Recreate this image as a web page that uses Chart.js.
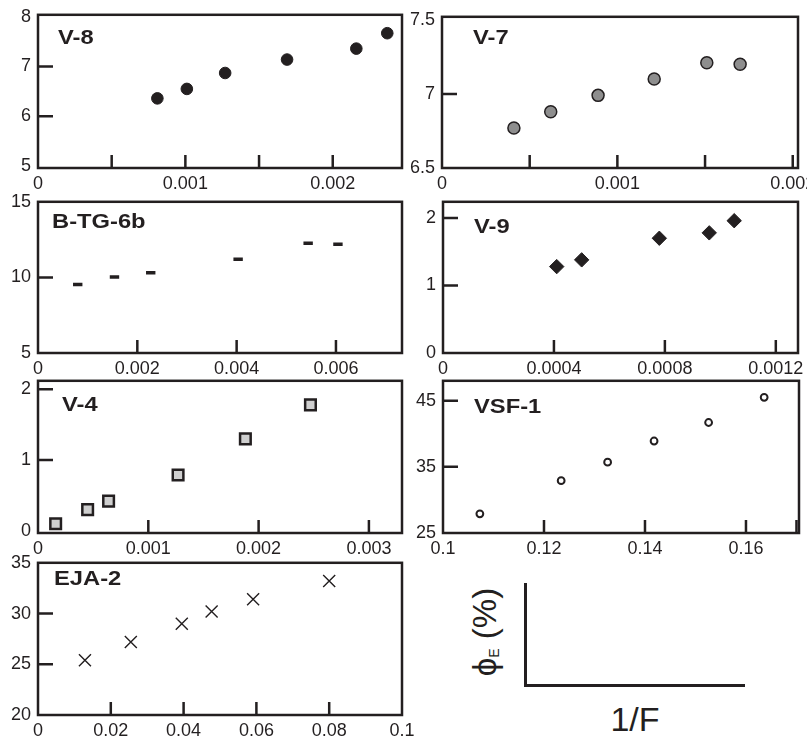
<!DOCTYPE html>
<html><head><meta charset="utf-8">
<script src="https://cdn.jsdelivr.net/npm/chart.js@4.4.0/dist/chart.umd.min.js"></script>
<style>
html,body{margin:0;padding:0;background:#fff;overflow:hidden;width:807px;height:738px;position:relative;}
canvas{position:absolute;}
.ttl{position:absolute;font:bold 21px "Liberation Sans",Arial,sans-serif;color:#231f20;line-height:21px;white-space:nowrap;transform:scaleX(1.13);transform-origin:0 0;}
.ln{position:absolute;background:#231f20;}
</style></head><body>
<script>
// ---------- data ----------
const v8X = [0.00081, 0.00101, 0.00127, 0.00169, 0.00216, 0.00237];
const v8Y = [6.36, 6.55, 6.87, 7.14, 7.36, 7.67];
const v7X = [0.00041, 0.00062, 0.00089, 0.00121, 0.00151, 0.00170];
const v7Y = [6.77, 6.88, 6.99, 7.10, 7.21, 7.20];
const btgX = [0.00080, 0.00154, 0.00227, 0.00403, 0.00544, 0.00604];
const btgY = [9.53, 10.02, 10.30, 11.20, 12.26, 12.19];
const v9X = [0.00041, 0.00050, 0.00078, 0.00096, 0.00105];
const v9Y = [1.28, 1.38, 1.70, 1.78, 1.96];
const v4X = [0.00016, 0.00045, 0.00064, 0.00127, 0.00188, 0.00247];
const v4Y = [0.10, 0.30, 0.42, 0.79, 1.30, 1.78];
const vsfX = [0.1073, 0.1234, 0.1326, 0.1418, 0.1526, 0.1636];
const vsfY = [27.9, 32.9, 35.7, 38.9, 41.7, 45.5];
const ejaX = [0.0129, 0.0255, 0.0395, 0.0477, 0.0591, 0.0800];
const ejaY = [25.4, 27.2, 29.0, 30.2, 31.4, 33.2];

// tick labels and tick marks
const v8XLabels = [0, 0.001, 0.002];        const v8XMarks = [0.0005, 0.001, 0.0015, 0.002];
const v8YLabels = [5, 6, 7, 8];             const v8YMarks = [6, 7];
const v7XLabels = [0, 0.001, 0.002];        const v7XMarks = [0.0005, 0.001, 0.0015, 0.002];
const v7YLabels = [6.5, 7, 7.5];            const v7YMarks = [7];
const btgXLabels = [0, 0.002, 0.004, 0.006];const btgXMarks = [0.002, 0.004, 0.006];
const btgYLabels = [5, 10, 15];             const btgYMarks = [10];
const v9XLabels = [0, 0.0004, 0.0008, 0.0012]; const v9XMarks = [0.0004, 0.0008, 0.0012];
const v9YLabels = [0, 1, 2];                const v9YMarks = [1, 2];
const v4XLabels = [0, 0.001, 0.002, 0.003]; const v4XMarks = [0.001, 0.002, 0.003];
const v4YLabels = [0, 1, 2];                const v4YMarks = [1, 2];
const vsfXLabels = [0.1, 0.12, 0.14, 0.16]; const vsfXMarks = [0.12, 0.14, 0.16, 0.17];
const vsfYLabels = [25, 35, 45];            const vsfYMarks = [35, 45];
const ejaXLabels = [0, 0.02, 0.04, 0.06, 0.08, 0.1]; const ejaXMarks = [0.02, 0.04, 0.06, 0.08];
const ejaYLabels = [20, 25, 30, 35];        const ejaYMarks = [25, 30];

const titles = ['V-8', 'V-7', 'B-TG-6b', 'V-9', 'V-4', 'VSF-1', 'EJA-2'];

// ---------- layout / style ----------
const FONT = '"Liberation Sans", Arial, sans-serif';
const INK = '#231f20';

const panels = [
  {t:0, x:v8X, y:v8Y, box:[38,11,402,168], xr:[0,0.00247], yr:[4.96,8.04],
   xl:v8XLabels, xm:v8XMarks, yl:v8YLabels, ym:v8YMarks, tpos:[58,25.5],
   mk:{style:'circle', r:5.8, fill:INK, stroke:INK, bw:1}},
  {t:1, x:v7X, y:v7Y, box:[442,13,798,168], xr:[0,0.00203], yr:[6.5,7.52],
   xl:v7XLabels, xm:v7XMarks, yl:v7YLabels, ym:v7YMarks, tpos:[473,25.5],
   mk:{style:'circle', r:6, fill:'#8e8e8e', stroke:INK, bw:1.5}},
  {t:2, x:btgX, y:btgY, box:[38,198,402,353], xr:[0,0.00733], yr:[5,15],
   xl:btgXLabels, xm:btgXMarks, yl:btgYLabels, ym:btgYMarks, tpos:[52,210],
   mk:{style:'line', r:4.7, fill:INK, stroke:INK, bw:3.5}},
  {t:3, x:v9X, y:v9Y, box:[443,198,798,353], xr:[0,0.00128], yr:[0,2.24],
   xl:v9XLabels, xm:v9XMarks, yl:v9YLabels, ym:v9YMarks, tpos:[474,214.5],
   mk:{style:'rectRot', r:7.2, fill:INK, stroke:INK, bw:1}},
  {t:4, x:v4X, y:v4Y, box:[38,377,402,533], xr:[0,0.0033], yr:[-0.03,2.12],
   xl:v4XLabels, xm:v4XMarks, yl:v4YLabels, ym:v4YMarks, tpos:[61.5,393.2],
   mk:{style:'rect', r:7.5, fill:'#cfcfcf', stroke:INK, bw:2.5}},
  {t:5, x:vsfX, y:vsfY, box:[443,377,799,533], xr:[0.1,0.1705], yr:[25,48],
   xl:vsfXLabels, xm:vsfXMarks, yl:vsfYLabels, ym:vsfYMarks, tpos:[474,395],
   mk:{style:'circle', r:3.4, fill:'#ffffff', stroke:INK, bw:2}},
  {t:6, x:ejaX, y:ejaY, box:[38,559,402,715], xr:[0,0.1], yr:[20,35],
   xl:ejaXLabels, xm:ejaXMarks, yl:ejaYLabels, ym:ejaYMarks, tpos:[53.5,567.2],
   mk:{style:'crossRot', r:8.5, fill:INK, stroke:INK, bw:1.4}}
];

const framePlugin = {
  id: 'frame',
  afterDatasetsDraw(chart, args, o) {
    const ctx = chart.ctx, a = chart.chartArea, xs = chart.scales.x, ys = chart.scales.y;
    ctx.save();
    ctx.strokeStyle = INK; ctx.lineWidth = 2.5; ctx.lineCap = 'butt'; ctx.lineJoin = 'miter';
    ctx.strokeRect(a.left, a.top, a.right - a.left, a.bottom - a.top);
    ctx.beginPath();
    o.xm.forEach(v => { const px = xs.getPixelForValue(v); ctx.moveTo(px, a.bottom); ctx.lineTo(px, a.bottom - 13); });
    o.ym.forEach(v => { const py = ys.getPixelForValue(v); ctx.moveTo(a.left, py); ctx.lineTo(a.left + 15, py); });
    ctx.stroke();
    ctx.restore();
  }
};

function buildPanel(p) {
  const [L, T, R, B] = p.box;
  const padL = 40, padT = 14, padR = 34, padB = 30;
  const w = (R - L) + padL + padR, h = (B - T) + padT + padB;
  const cv = document.createElement('canvas');
  cv.width = w; cv.height = h;
  cv.style.left = (L - padL) + 'px'; cv.style.top = (T - padT) + 'px';
  cv.style.width = w + 'px'; cv.style.height = h + 'px';
  document.body.appendChild(cv);
  const xl = p.xl, yl = p.yl;
  new Chart(cv, {
    type: 'scatter',
    data: { datasets: [{
      data: p.x.map((v, i) => ({ x: v, y: p.y[i] })),
      pointStyle: p.mk.style, pointRadius: p.mk.r,
      pointBackgroundColor: p.mk.fill, pointBorderColor: p.mk.stroke, pointBorderWidth: p.mk.bw,
      showLine: false
    }]},
    options: {
      responsive: false, animation: false, devicePixelRatio: 1, events: [],
      layout: { padding: { left: 0, top: padT, right: padR, bottom: 0 } },
      plugins: { legend: { display: false }, tooltip: { enabled: false }, frame: { xm: p.xm, ym: p.ym } },
      scales: {
        x: {
          type: 'linear', min: p.xr[0], max: p.xr[1],
          grid: { display: false, drawTicks: false }, border: { display: false },
          afterBuildTicks: s => { s.ticks = xl.map(v => ({ value: v })); },
          afterFit: s => { s.height = padB; },
          ticks: { font: { family: FONT, size: 18 }, color: INK, padding: 5, maxRotation: 0, minRotation: 0,
                   autoSkip: false, callback: (v, i) => String(xl[i]) }
        },
        y: {
          type: 'linear', min: p.yr[0], max: p.yr[1],
          grid: { display: false, drawTicks: false }, border: { display: false },
          afterBuildTicks: s => { s.ticks = yl.map(v => ({ value: v })); },
          afterFit: s => { s.width = padL; },
          ticks: { font: { family: FONT, size: 18 }, color: INK, padding: 7, autoSkip: false,
                   callback: (v, i) => String(yl[i]) }
        }
      }
    },
    plugins: [framePlugin]
  });
  const d = document.createElement('div');
  d.className = 'ttl';
  d.textContent = titles[p.t];
  d.style.left = p.tpos[0] + 'px'; d.style.top = p.tpos[1] + 'px';
  document.body.appendChild(d);
}
panels.forEach(buildPanel);

// axis key icon
function addDiv(cls, css, html) {
  const d = document.createElement('div'); d.className = cls; d.style.cssText = css;
  if (html) d.innerHTML = html; document.body.appendChild(d); return d;
}
addDiv('ln', 'left:523.5px;top:583px;width:3px;height:104px;');
addDiv('ln', 'left:523.5px;top:684px;width:221px;height:3px;');
addDiv('', 'position:absolute;left:635px;top:702px;transform:translateX(-50%);font:34px "Liberation Sans",Arial,sans-serif;line-height:34px;color:#231f20;white-space:nowrap;', '1/F');
addDiv('', 'position:absolute;left:489px;top:632px;transform:translate(-50%,-50%) rotate(-90deg);font:33px "Liberation Sans",Arial,sans-serif;line-height:36px;color:#231f20;white-space:nowrap;',
  'ϕ<span style="font-size:14px;vertical-align:-3px;color:#231f20;">E</span> (%)');
</script>
</body></html>
